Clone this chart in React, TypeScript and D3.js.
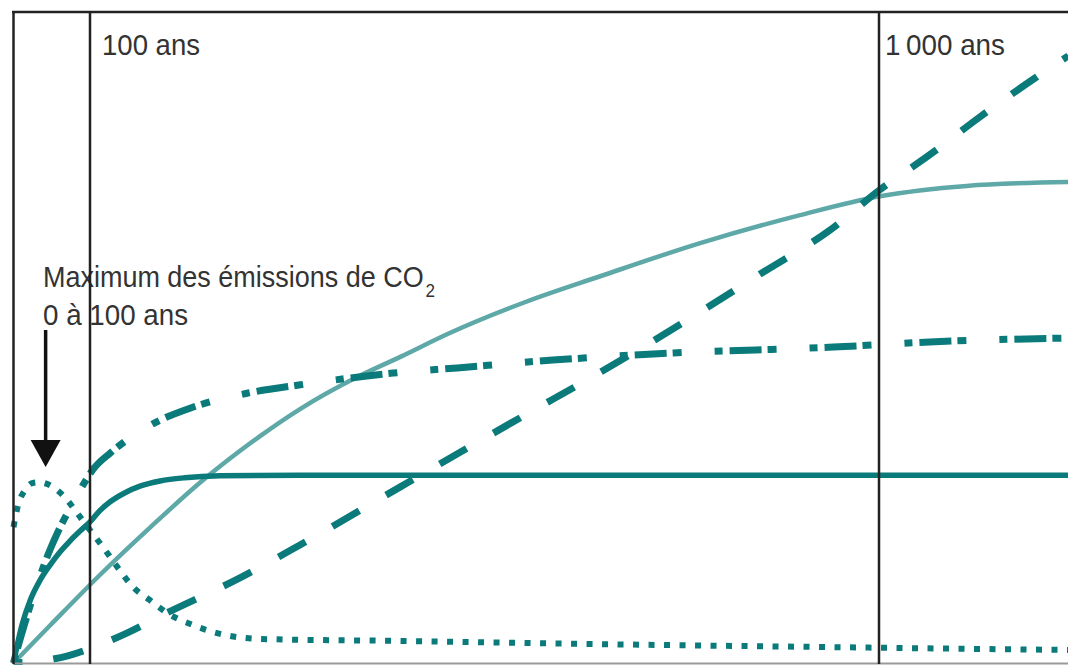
import React from "react";
import * as d3 from "d3";

// Time axis (years after the emission peak window) and relative response magnitude.
const emissionYears = [0, 6, 15, 25, 35, 45, 57, 70, 83, 97, 115, 131, 149, 168, 188, 218, 245, 294, 454, 682, 910, 1216];
const emissionValues = [20.9, 24.3, 26.6, 27.7, 27.8, 27.5, 26.6, 25.1, 23.1, 20.9, 17.8, 14.8, 11.7, 9.7, 7.7, 5.8, 4.6, 3.7, 3.4, 2.9, 2.5, 2.0];

const concentrationYears = [0, 5, 11, 22, 35, 48, 61, 74, 87, 100, 111, 123, 140, 157, 180, 208, 248, 340, 1216];
const concentrationValues = [0, 2.8, 5.8, 9.7, 12.8, 15.1, 17.1, 18.8, 20.3, 21.7, 23.4, 24.8, 26.2, 27.2, 28.0, 28.5, 28.8, 28.9, 28.9];

const temperatureYears = [0, 48, 111, 169, 226, 294, 340, 402, 454, 511, 596, 682, 796, 910, 1001, 1100, 1216];
const temperatureValues = [0, 5.8, 13.5, 20.9, 27.8, 34.9, 39.1, 43.8, 47.1, 50.8, 55.5, 59.5, 64.6, 68.9, 71.8, 73.4, 74.0];

const thermalYears = [0, 9, 22, 35, 48, 61, 74, 91, 103, 123, 142, 176, 214, 279, 340, 446, 519, 628, 765, 948, 1058, 1216];
const thermalValues = [0, 3.8, 8.9, 13.5, 17.5, 20.9, 23.8, 27.4, 29.7, 32.3, 34.3, 37.1, 39.2, 41.5, 42.8, 44.6, 45.4, 46.6, 47.7, 48.6, 49.4, 50.0];

const iceYears = [0, 35, 71, 111, 142, 180, 271, 340, 454, 580, 702, 796, 864, 944, 1001, 1058, 1115, 1178, 1216];
const iceValues = [0, 0.3, 1.1, 2.8, 4.6, 7.2, 13.1, 18.2, 27.1, 36.9, 46.3, 54.0, 59.8, 66.6, 72.8, 78.2, 84.0, 90.0, 93.4];

const markerYears = [100, 1000];
const markerLabels = ["100 ans", "1\u2009000 ans"];
const peakYear = 42;

const W = 1068;
const H = 665;
const DARK = "#0a7a7a";
const LIGHT = "#5ea9a7";
const INK = "#333333";

const x = d3.scaleLinear().domain([0, 100, 1000]).range([13.5, 90, 879]);
const y = d3.scaleLinear().domain([0, 100]).range([663, 13]);

const zip = (xs: number[], ys: number[]) => xs.map((v, i) => [v, ys[i]] as [number, number]);
const line = d3
  .line<[number, number]>()
  .x((d) => x(d[0]))
  .y((d) => y(d[1]))
  .curve(d3.curveMonotoneX);

const FONT = "'Liberation Sans Narrow', 'Liberation Sans', Arial, sans-serif";

export default function App() {
  const x100 = x(markerYears[0]);
  const x1000 = x(markerYears[1]);
  const ax = x(peakYear);
  return (
    <svg
      width={W}
      height={H}
      style={{ position: "absolute", left: 0, top: 0, background: "#fff" }}
      fontFamily={FONT}
    >
      <rect x={0} y={0} width={W} height={H} fill="#fff" />

      {/* response curves */}
      <path d={line(zip(temperatureYears, temperatureValues)) || ""} fill="none" stroke={LIGHT} strokeWidth={4.5} />
      <path
        d={line(zip(iceYears, iceValues)) || ""}
        fill="none"
        stroke={DARK}
        strokeWidth={7}
        strokeDasharray="31 31"
        strokeDashoffset={22}
      />
      <path
        d={line(zip(thermalYears, thermalValues)) || ""}
        fill="none"
        stroke={DARK}
        strokeWidth={7}
        strokeDasharray="8 7 32 6 9 33"
      />
      <path d={line(zip(concentrationYears, concentrationValues)) || ""} fill="none" stroke={DARK} strokeWidth={5.5} />
      <path
        d={line(zip(emissionYears, emissionValues)) || ""}
        fill="none"
        stroke={DARK}
        strokeWidth={6}
        strokeDasharray="6 9.5"
      />

      {/* frame */}
      <line x1={13.5} x2={W} y1={663.5} y2={663.5} stroke="#9a9a9a" strokeWidth={2} />
      <line x1={13.5} x2={13.5} y1={11} y2={664} stroke="#222" strokeWidth={2.5} />
      <line x1={12} x2={W} y1={12} y2={12} stroke="#222" strokeWidth={2.5} />

      {/* annotation text */}
      <text x={43} y={287} fontSize={30} fill={INK} textLength={392} lengthAdjust="spacingAndGlyphs">
        Maximum des émissions de CO
        <tspan fontSize={19} dx={2} dy={10}>
          2
        </tspan>
      </text>
      <text x={43} y={325} fontSize={30} fill={INK} textLength={145} lengthAdjust="spacingAndGlyphs">
        0 à 100 ans
      </text>

      {/* time markers */}
      {markerYears.map((yr) => (
        <line key={yr} x1={x(yr)} x2={x(yr)} y1={11} y2={664} stroke="#222" strokeWidth={2.5} />
      ))}
      <text x={x100 + 12} y={55} fontSize={30} fill={INK} textLength={98} lengthAdjust="spacingAndGlyphs">
        {markerLabels[0]}
      </text>
      <text x={x1000 + 6} y={55} fontSize={30} fill={INK} textLength={120} lengthAdjust="spacingAndGlyphs">
        {markerLabels[1]}
      </text>

      {/* arrow to the emission peak */}
      <line x1={ax} x2={ax} y1={330} y2={444} stroke="#111" strokeWidth={3.5} />
      <path d={`M${ax - 15},440 L${ax + 15},440 L${ax},467 Z`} fill="#111" />
    </svg>
  );
}
